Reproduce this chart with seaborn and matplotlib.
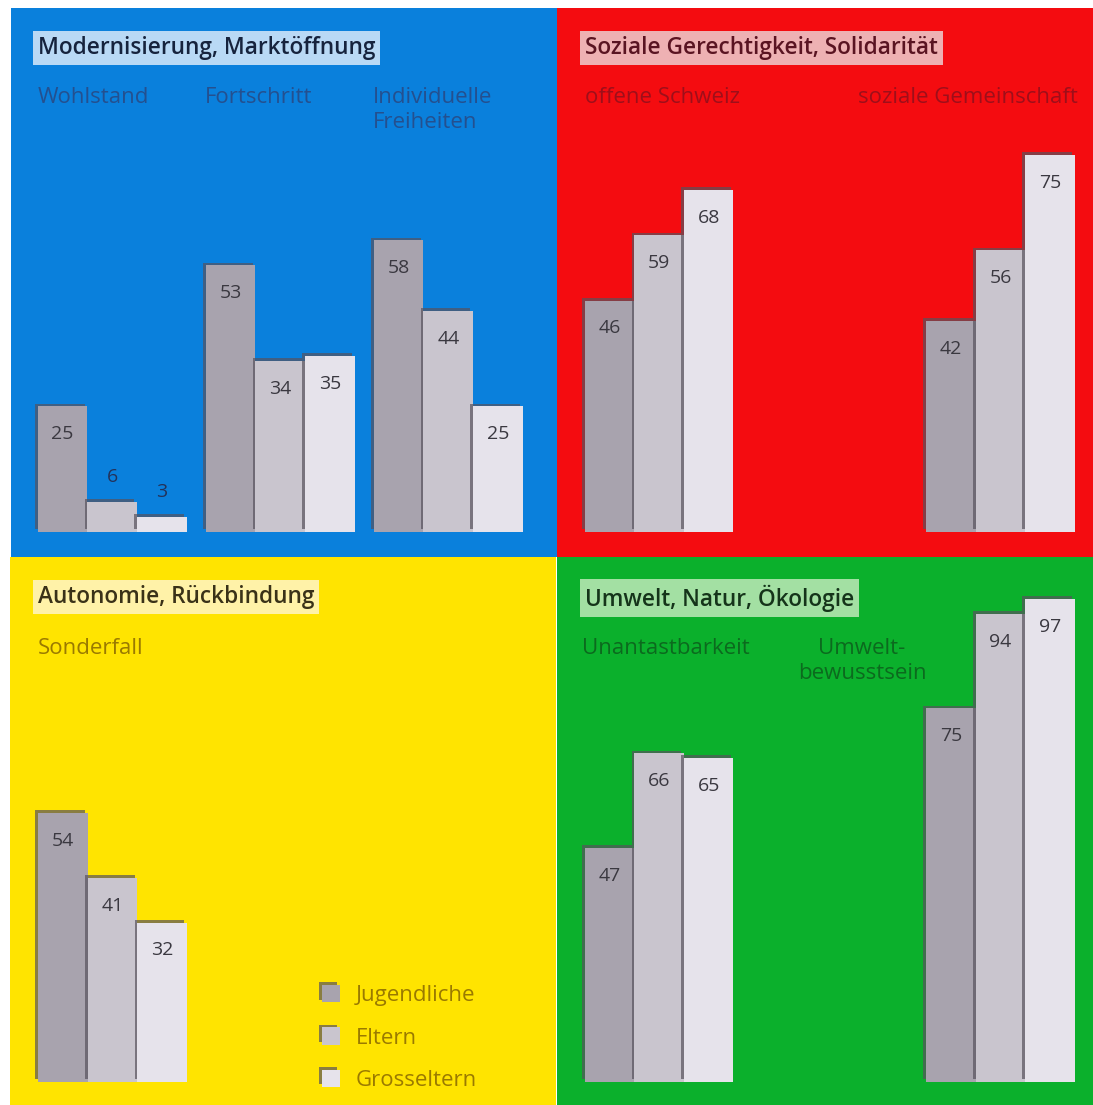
import numpy as np
import pandas as pd
import matplotlib
matplotlib.use("Agg")
import matplotlib.pyplot as plt
import matplotlib.patheffects as pe
import seaborn as sns

# ---------------- data ----------------
generations = ["Jugendliche", "Eltern", "Grosseltern"]

blue_title = "Modernisierung, Marktöffnung"
blue_categories = ["Wohlstand", "Fortschritt", "Individuelle\nFreiheiten"]
blue_jugendliche = [25, 53, 58]
blue_eltern = [6, 34, 44]
blue_grosseltern = [3, 35, 25]

red_title = "Soziale Gerechtigkeit, Solidarität"
red_categories = ["offene Schweiz", "soziale Gemeinschaft"]
red_jugendliche = [46, 42]
red_eltern = [59, 56]
red_grosseltern = [68, 75]

yellow_title = "Autonomie, Rückbindung"
yellow_categories = ["Sonderfall"]
yellow_jugendliche = [54]
yellow_eltern = [41]
yellow_grosseltern = [32]

green_title = "Umwelt, Natur, Ökologie"
green_categories = ["Unantastbarkeit", "Umwelt-\nbewusstsein"]
green_jugendliche = [47, 75]
green_eltern = [66, 94]
green_grosseltern = [65, 97]

# ---------------- style ----------------
W, H = 1093, 1105
sns.set_style("white")
plt.rcParams["font.family"] = ["Open Sans", "DejaVu Sans"]
bar_palette = ["#a8a3ae", "#c9c5ce", "#e6e3eb"]
TITLE_FS = 16.3
LABEL_FS = 16
VALUE_FS = 14


def frame(cats, j, e, g):
    rows = []
    for vals, gen in zip([j, e, g], generations):
        for c, v in zip(cats, vals):
            rows.append({"Kategorie": c, "Generation": gen, "Wert": v})
    return pd.DataFrame(rows)


def fx(x):
    return x / W


def fy(y):
    return 1 - y / H


fig = plt.figure(figsize=(W / 100, H / 100), dpi=100)
fig.patch.set_facecolor("white")

panels = [
    dict(rect=(11, 8, 557, 557), bg="#0a80dc", data=frame(blue_categories, blue_jugendliche, blue_eltern, blue_grosseltern),
         order=blue_categories, width=0.885, xlim=(-0.602, 2.647), ylim=(-4.97, 104.2),
         title=blue_title, tpos=(38, 48), tbox="#b9d9f5", tcol="#16233d",
         labels=[(38, 100, "left"), (205, 100, "left"), (373, 100, "left")], lcol="#24508f", legend=False),
    dict(rect=(557, 8, 1093, 557), bg="#f40c10", data=frame(red_categories, red_jugendliche, red_eltern, red_grosseltern),
         order=red_categories, width=0.435, xlim=(-0.299, 1.271), ylim=(-4.97, 104.2),
         title=red_title, tpos=(585, 48), tbox="#eeb1b3", tcol="#5a1422",
         labels=[(585, 100, "left"), (1078, 100, "right")], lcol="#9e0f1a", legend=False),
    dict(rect=(10, 557, 556, 1105), bg="#ffe400", data=frame(yellow_categories, yellow_jugendliche, yellow_eltern, yellow_grosseltern),
         order=yellow_categories, width=0.8, xlim=(-0.548, 2.373), ylim=(-4.6, 105.4),
         title=yellow_title, tpos=(38, 597), tbox="#fff2a8", tcol="#3a3218",
         labels=[(38, 651, "left")], lcol="#9a7a00", legend=True),
    dict(rect=(557, 557, 1093, 1105), bg="#0bb02c", data=frame(green_categories, green_jugendliche, green_eltern, green_grosseltern),
         order=green_categories, width=0.435, xlim=(-0.299, 1.271), ylim=(-4.6, 105.4),
         title=green_title, tpos=(585, 598), tbox="#a3e0a3", tcol="#15341a",
         labels=[(582, 651, "left"), (862, 651, "center")], lcol="#0c6a1e", legend=True),
]

shadow = [pe.SimplePatchShadow(offset=(-2.0, 2.0), shadow_rgbFace="#57525d", alpha=0.7), pe.Normal()]

for p in panels:
    x0, y0, x1, y1 = p["rect"]
    ax = fig.add_axes([fx(x0), fy(y1), fx(x1 - x0), (y1 - y0) / H])
    ax.set_facecolor(p["bg"])
    sns.barplot(data=p["data"], x="Kategorie", y="Wert", hue="Generation", order=p["order"],
                hue_order=generations, palette=bar_palette, width=p["width"], saturation=1,
                edgecolor="none", linewidth=0, ax=ax, legend=p["legend"])
    ax.set_xlim(*p["xlim"])
    ax.set_ylim(*p["ylim"])
    ax.set_xticks([])
    ax.set_yticks([])
    ax.set_xlabel("")
    ax.set_ylabel("")
    for s in ax.spines.values():
        s.set_visible(False)

    bars = [b for b in ax.patches if b.get_height() > 0]
    for b in bars:
        b.set_path_effects(shadow)
        h = b.get_height()
        cx = b.get_x() + b.get_width() / 2
        if h >= 15:
            ax.annotate(f"{h:.0f}", (cx, h), xytext=(0, -20), textcoords="offset points",
                        ha="center", va="center", fontsize=VALUE_FS, color="#3a3840")
        else:
            ax.annotate(f"{h:.0f}", (cx, h), xytext=(0, 18), textcoords="offset points",
                        ha="center", va="center", fontsize=VALUE_FS, color="#23325a")

    # title box
    tx, ty = p["tpos"]
    fig.text(fx(tx), fy(ty), p["title"], ha="left", va="center", fontsize=TITLE_FS, color=p["tcol"],
             fontweight="semibold",
             bbox=dict(boxstyle="square,pad=0.22", facecolor=p["tbox"], edgecolor="none"))

    # category labels
    for cat, (lx, ly, ha) in zip(p["order"], p["labels"]):
        fig.text(fx(lx), fy(ly - 13), cat, ha=ha, va="top", fontsize=LABEL_FS, color=p["lcol"],
                 linespacing=1.25, multialignment=ha)

    if p["legend"] and p["bg"] == "#ffe400":
        leg = ax.legend(loc="upper left", bbox_to_anchor=(fx(322), fy(985)), bbox_transform=fig.transFigure,
                        frameon=False, borderpad=0, borderaxespad=0, fontsize=LABEL_FS,
                        handlelength=0.82, handleheight=0.82, labelspacing=0.95, handletextpad=0.7)
        for t in leg.get_texts():
            t.set_color("#9a7a00")
        for patch in leg.get_patches():
            patch.set_path_effects(shadow)
    elif ax.get_legend() is not None:
        ax.get_legend().remove()

fig.savefig("out.png", dpi=100, facecolor="white")
